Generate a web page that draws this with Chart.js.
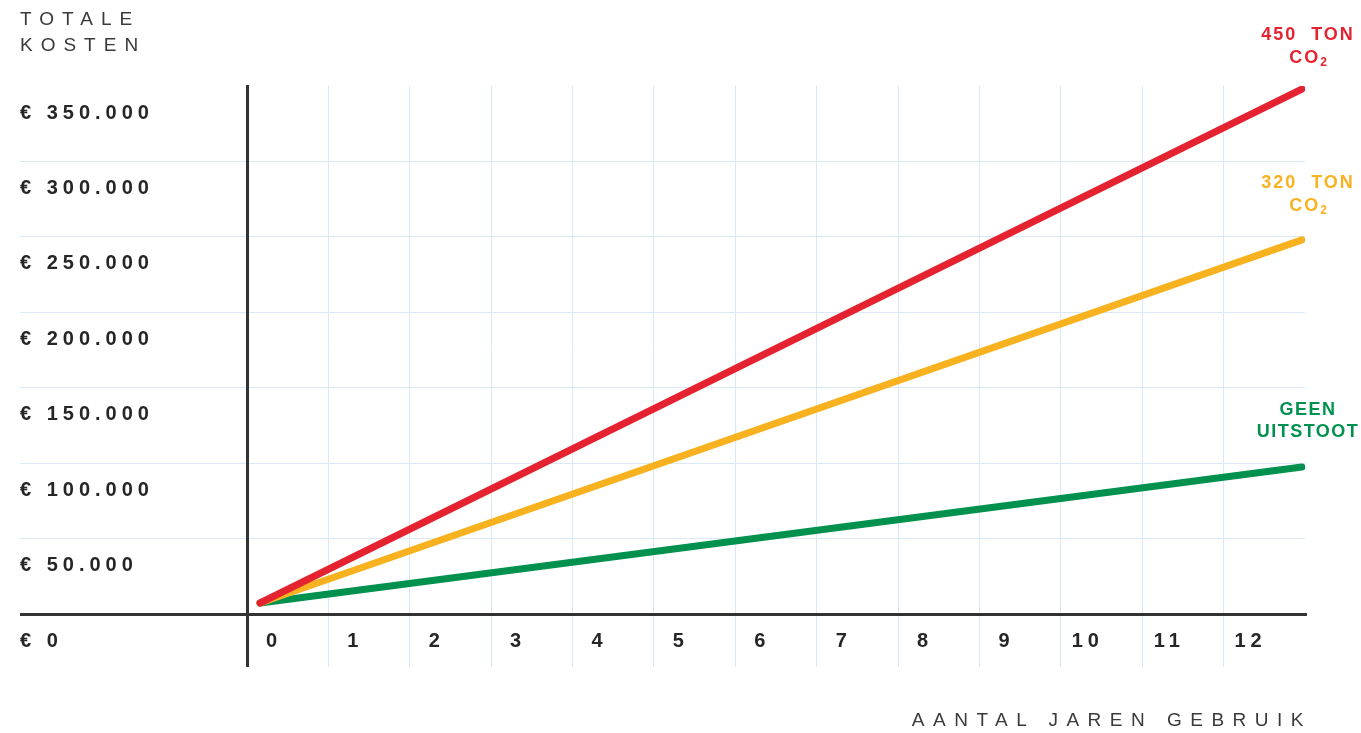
<!DOCTYPE html>
<html>
<head>
<meta charset="utf-8">
<script src="https://cdn.jsdelivr.net/npm/chart.js@4/dist/chart.umd.min.js"></script>
<style>
    body { margin: 0; background: #fff; font-family: "Liberation Sans", Arial, sans-serif; }
    #wrap { position: relative; width: 1361px; height: 733px; }
    .title { position: absolute; color: #3a3a3a; font-size: 19px; letter-spacing: 8px; line-height: 26px; }
    .note { position: absolute; width: 130px; left: 1241px; text-align: center; font-weight: bold; font-size: 18px; letter-spacing: 2px; line-height: 23px; padding-left: 2px; }
    .note sub { font-size: 12px; letter-spacing: 0; vertical-align: -3px; line-height: 0; }
</style>
</head>
<body>
<div id="wrap">
    <canvas id="costChart"></canvas>
    <div class="title" style="left: 20px; top: 6px;">TOTALE<br>KOSTEN</div>
    <div class="title" style="right: 49px; top: 707px; letter-spacing: 8.5px;">AANTAL JAREN GEBRUIK</div>
    <div class="note" style="top: 23px; color: #e52330;">450&nbsp;&nbsp;TON<br>CO<sub>2</sub></div>
    <div class="note" style="top: 171px; color: #f8b21f;">320&nbsp;&nbsp;TON<br>CO<sub>2</sub></div>
    <div class="note" style="top: 398px; color: #00914f; line-height: 22px; letter-spacing: 1.5px;">GEEN<br>UITSTOOT</div>
</div>
<script>
const years = [0, 12];
const red450 = [7300, 348000];
const yellow320 = [7300, 248000];
const greenNone = [7300, 97500];

const xLabels = ['0', '1', '2', '3', '4', '5', '6', '7', '8', '9', '10', '11', '12'];
const yTickLabels = ['€ 0', '€ 50.000', '€ 100.000', '€ 150.000', '€ 200.000', '€ 250.000', '€ 300.000', '€ 350.000'];

const gridBlue = '#dbe8f5';
const axisDark = '#333333';

function points(values) {
    return years.map((yr, i) => ({ x: yr, y: values[i] }));
}

// canvas letter spacing for the bold tick labels
const spacingPlugin = {
    id: 'spacing',
    beforeDraw(chart) { chart.ctx.letterSpacing = '5px'; },
    afterDraw(chart) { chart.ctx.letterSpacing = '0px'; }
};

const tickFont = { family: '"Liberation Sans", Arial, sans-serif', size: 20, weight: 'bold' };

const ctx = document.getElementById('costChart').getContext('2d');
new Chart(ctx, {
    type: 'line',
    data: {
        datasets: [
            { label: '450 ton CO2', data: points(red450), borderColor: '#e52330' },
            { label: '320 ton CO2', data: points(yellow320), borderColor: '#f8b21f' },
            { label: 'Geen uitstoot', data: points(greenNone), borderColor: '#00914f' }
        ].map(d => Object.assign(d, {
            xAxisID: 'xd',
            borderWidth: 7,
            borderCapStyle: 'round',
            pointRadius: 0,
            tension: 0
        }))
    },
    options: {
        responsive: true,
        maintainAspectRatio: false,
        animation: false,
        layout: { padding: { left: 20, top: 86, right: 56, bottom: 0 } },
        plugins: { legend: { display: false }, tooltip: { enabled: false } },
        scales: {
            x: {
                type: 'linear',
                min: 0,
                max: 13,
                afterFit: s => { s.height = 119; },
                ticks: {
                    stepSize: 1,
                    autoSkip: false,
                    maxRotation: 0,
                    labelOffset: 27,
                    padding: -38,
                    color: '#262626',
                    font: tickFont,
                    callback: (v) => xLabels[v] ?? ''
                },
                grid: {
                    tickLength: 53,
                    color: c => c.tick.value === 0 ? axisDark : (c.tick.value === 13 ? 'rgba(0,0,0,0)' : gridBlue),
                    lineWidth: c => c.tick.value === 0 ? 3 : 1
                },
                border: { color: axisDark, width: 3 }
            },
            xd: {
                type: 'linear',
                display: false,
                min: -0.15,
                max: 12.035
            },
            y: {
                min: 0,
                max: 350000,
                afterFit: s => { s.width = 227; },
                ticks: {
                    stepSize: 50000,
                    crossAlign: 'far',
                    labelOffset: 27,
                    color: '#262626',
                    font: tickFont,
                    callback: (v, i) => yTickLabels[i]
                },
                grid: {
                    tickLength: 227,
                    color: c => c.tick.value === 0 ? axisDark : (c.tick.value === 350000 ? 'rgba(0,0,0,0)' : gridBlue),
                    lineWidth: c => c.tick.value === 0 ? 3 : 1
                },
                border: { color: axisDark, width: 3 }
            }
        }
    },
    plugins: [spacingPlugin]
});
</script>
</body>
</html>
